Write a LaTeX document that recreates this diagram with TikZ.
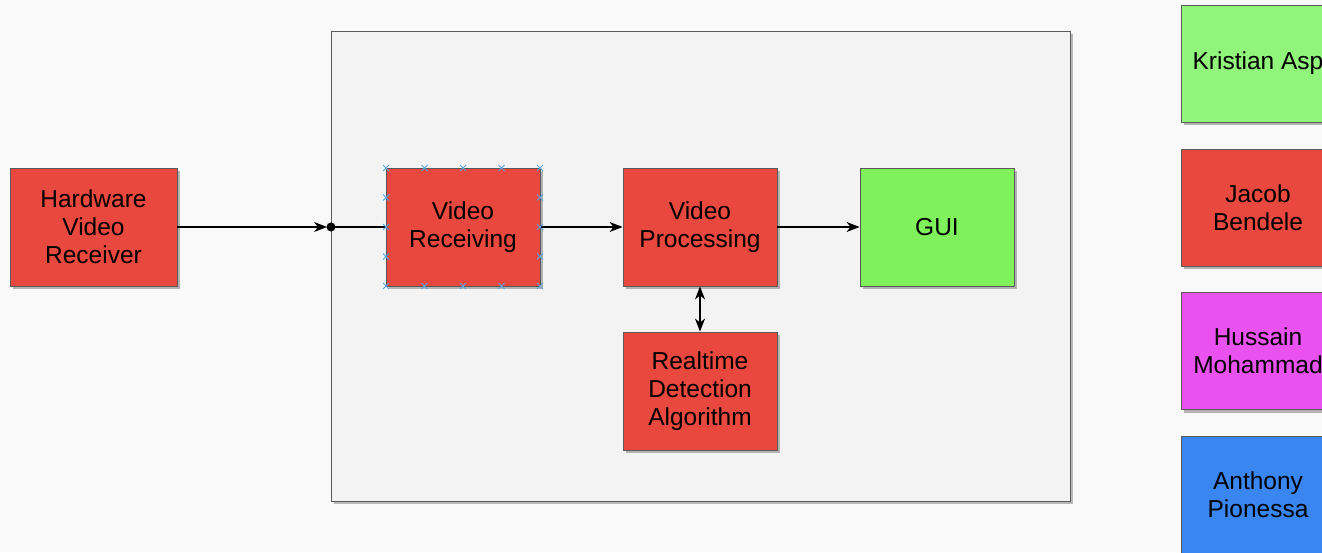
\documentclass[tikz,border=0pt]{standalone}
\usepackage{fontspec}
\setmainfont{Liberation Sans}
\usetikzlibrary{arrows.meta,shadows}
\definecolor{bg}{HTML}{F9F9F9}
\definecolor{cont}{HTML}{F3F3F3}
\definecolor{boxred}{HTML}{E9483F}
\definecolor{guigreen}{HTML}{7EF15B}
\definecolor{lgreen}{HTML}{90F57A}
\definecolor{lmag}{HTML}{EA52F0}
\definecolor{lblue}{HTML}{3A86F0}
\definecolor{edge}{HTML}{5A5A5A}
\definecolor{handle}{HTML}{5AA5E0}
\tikzset{
  blk/.style={draw=edge, line width=0.9pt, minimum width=154pt, minimum height=118pt,
    align=center, inner sep=2pt, font=\fontsize{24.5}{28}\selectfont,
    drop shadow={shadow xshift=3pt, shadow yshift=-3pt, fill=black!30, opacity=1}},
  conn/.style={line width=1.1pt, -{Stealth[length=13pt,width=10pt,inset=4pt]}},
  dconn/.style={line width=1.1pt, {Stealth[length=13pt,width=10pt,inset=4pt]}-{Stealth[length=13pt,width=10pt,inset=4pt]}},
}
\begin{document}
\begin{tikzpicture}[x=1pt,y=-1pt]
\useasboundingbox[fill=bg] (0,0) rectangle (1322,552);
% container
\node[draw=edge, line width=1pt, fill=cont, minimum width=739pt, minimum height=470pt, inner sep=0pt,
  drop shadow={shadow xshift=3pt, shadow yshift=-3pt, fill=black!28, opacity=1}] (cont) at (700.5,266) {};
% blocks
\node[blk, fill=boxred, minimum width=167pt] (hvr) at (93.5,227) {Hardware\\Video\\Receiver};
\node[blk, fill=boxred] (vr) at (463,227) {Video\\Receiving};
\node[blk, fill=boxred] (vp) at (700,227) {Video\\Processing};
\node[blk, fill=guigreen] (gui) at (937,227) {GUI};
\node[blk, fill=boxred] (rda) at (700,391) {Realtime\\Detection\\Algorithm};
% legend
\node[blk, fill=lgreen, minimum height=117pt] (k) at (1258,63.5) {Kristian Asp};
\node[blk, fill=boxred, minimum height=117pt] (j) at (1258,207.5) {Jacob\\Bendele};
\node[blk, fill=lmag, minimum height=117pt] (h) at (1258,351) {Hussain\\Mohammad};
\node[blk, fill=lblue, minimum height=117pt] (a) at (1258,494.5) {Anthony\\Pionessa};
% junction
\coordinate (jn) at (331,227);
\fill (jn) circle (4.5pt);
\draw[conn] (hvr.east) -- ([xshift=-4pt]jn);
\draw[line width=2pt] (jn) -- (vr.west);
\draw[conn] (vr.east) -- (vp.west);
\draw[conn] (vp.east) -- (gui.west);
\draw[dconn] (vp.south) -- (rda.north);
% selection handles
\foreach \p in {(386,168),(424.5,168),(463,168),(501.5,168),(540,168),
                (386,286),(424.5,286),(463,286),(501.5,286),(540,286),
                (386,197.5),(386,227),(386,256.5),(540,197.5),(540,227),(540,256.5)}{
  \draw[handle, line width=0.9pt] \p ++(-3,-3) -- ++(6,6) \p ++(-3,3) -- ++(6,-6);
}
\end{tikzpicture}
\end{document}
